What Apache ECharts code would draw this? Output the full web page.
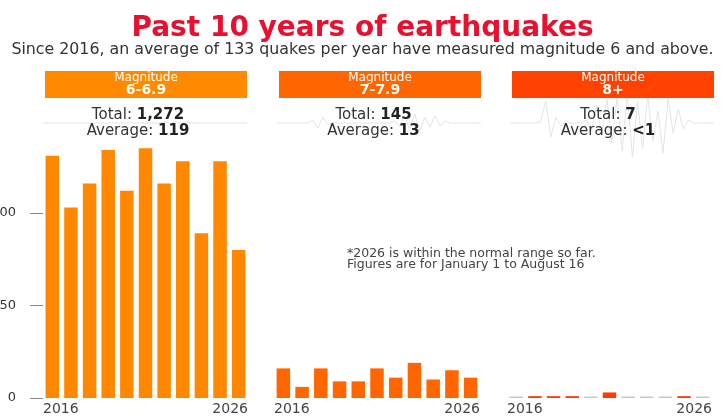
<!DOCTYPE html>
<head>
    <meta charset="utf-8">
    <script type="text/javascript" src="https://cdn.jsdelivr.net/npm/echarts@6/dist/echarts.min.js"></script>
</head>
<body style="margin:0; background:#fff">
	<div id="main" style="width:725px; height:416px"></div>
	<script type="text/javascript">
		// data
		var years = ['2016', '2017', '2018', '2019', '2020', '2021', '2022', '2023', '2024', '2025', '2026'];
		var mag6 = [131, 103, 116, 134, 112, 135, 116, 128, 89, 128, 80];
		var mag7 = [16, 6, 16, 9, 9, 16, 11, 19, 10, 15, 11];
		var mag8 = [0, 1, 1, 1, 0, 3, 0, 0, 0, 1, 0];
		var groups = ['6-6.9', '7-7.9', '8+'];
		var totals = ['1,272', '145', '7'];
		var averages = ['119', '13', '<1'];
		var yTicks = [0, 50, 100];
		// faint seismograph traces behind the totals (rough amplitude, one sample every 5px)
		var seis6 = [0,0,0,0,0,0,0,0,0,0,0,0,0,0,0,0,0,0,0,0,0,0,0,0,1,-1,2,-1,1,0,0,0,0,0,0,0,0,0,0,0,0];
		var seis7 = [0,0,0,0,0,0,0,3,-5,6,-2,1,0,0,0,0,0,0,0,0,0,0,0,2,-3,7,-6,9,-8,6,-4,7,-3,2,0,0,0,0,0,0,0];
		var seis8 = [0,0,0,0,0,0,1,22,-14,6,-3,2,0,0,0,3,-8,18,-12,24,-20,26,-28,30,-34,22,-26,28,-18,12,-30,24,-10,14,-6,3,0,0,0,0,0];

		var font = 'DejaVu Sans';
		var boxColors = ['#ff8a00', '#ff6600', '#ff4200'];
		var barColors = ['#ff8800', '#ff6600', '#ff3d00'];
		var boxX = [45, 279, 512];
		var statX = [138, 373.5, 608];
		var gridLeft = [43, 274, 507];
		var gridWidth = [205, 206, 205];
		var values = [mag6, mag7, mag8];
		var seis = [seis6, seis7, seis8];

		var grids = [], xAxes = [], yAxes = [], series = [], graphics = [];
		for (var i = 0; i < 3; i++) {
			grids.push({left: gridLeft[i], width: gridWidth[i], top: 139, height: 259, outerBoundsMode: 'none', containLabel: false});
			// hidden category axis for the bars
			xAxes.push({type: 'category', gridIndex: i, data: years, show: false});
			// label-only axis: first and last year at the grid edges
			xAxes.push({
				type: 'value', gridIndex: i, min: 0, max: 11, interval: 11, position: 'bottom',
				axisLine: {show: false}, axisTick: {show: false}, splitLine: {show: false},
				axisLabel: {
					margin: 4, color: '#444', fontFamily: font, fontSize: 14,
					alignMinLabel: 'left', alignMaxLabel: 'right',
					formatter: function (v) { return v === 0 ? years[0] : years[years.length - 1]; }
				}
			});
			yAxes.push({
				type: 'value', gridIndex: i, min: 0, max: 140, interval: 50,
				show: i === 0,
				axisLine: {show: false},
				axisTick: {show: true, length: 13, customValues: yTicks, lineStyle: {color: '#888'}},
				splitLine: {show: false},
				axisLabel: {
					margin: 27, color: '#333', fontFamily: font, fontSize: 13, customValues: yTicks
				}
			});
			(function (k) {
				series.push({
					type: 'bar', xAxisIndex: k * 2, yAxisIndex: k,
					data: values[k], barWidth: 13.5, barMinHeight: k === 2 ? 1.5 : 0,
					itemStyle: {
						color: function (p) { return p.value === 0 ? '#c8c8c8' : barColors[k]; }
					},
					silent: true
				});
			})(i);

			graphics.push({
				type: 'rect', z: 10, shape: {x: boxX[i], y: 71, width: 202, height: 27},
				style: {fill: boxColors[i]}
			});
			graphics.push({
				type: 'text', z: 11, x: boxX[i] + 101, y: 78,
				style: {text: 'Magnitude', fill: '#fff', font: '12px "DejaVu Sans"', align: 'center', verticalAlign: 'middle'}
			});
			graphics.push({
				type: 'text', z: 11, x: boxX[i] + 101, y: 90,
				style: {text: groups[i], fill: '#fff', font: 'bold 14px "DejaVu Sans"', align: 'center', verticalAlign: 'middle'}
			});
			graphics.push({
				type: 'text', z: 11, x: statX[i], y: 115,
				style: {
					text: '{a|Total: }{b|' + totals[i] + '}', align: 'center', verticalAlign: 'middle',
					rich: {
						a: {fontFamily: font, fontSize: 15, fill: '#333'},
						b: {fontFamily: font, fontSize: 15, fontWeight: 'bold', fill: '#222'}
					}
				}
			});
			graphics.push({
				type: 'text', z: 11, x: statX[i], y: 131,
				style: {
					text: '{a|Average: }{b|' + averages[i] + '}', align: 'center', verticalAlign: 'middle',
					rich: {
						a: {fontFamily: font, fontSize: 15, fill: '#333'},
						b: {fontFamily: font, fontSize: 15, fontWeight: 'bold', fill: '#222'}
					}
				}
			});
		}

		// grids for the seismograph traces, centred on y = 123
		for (var j = 0; j < 3; j++) {
			grids.push({left: boxX[j] - 2, width: 204, top: 88, height: 70, outerBoundsMode: 'none', containLabel: false});
			xAxes.push({type: 'category', gridIndex: 3 + j, boundaryGap: false, data: seis[j].map(function (v, n) { return n; }), show: false});
			yAxes.push({type: 'value', gridIndex: 3 + j, min: -35, max: 35, show: false});
			series.push({
				type: 'line', xAxisIndex: 6 + j, yAxisIndex: 3 + j, data: seis[j],
				symbol: 'none', silent: true, z: 1,
				lineStyle: {color: '#e4e4e4', width: 1}
			});
		}

		var myChart = echarts.init(document.getElementById('main'));
		var option = {
			animation: false,
			backgroundColor: '#fff',
			title: [
				{
					text: 'Past 10 years of earthquakes', left: 'center', top: 10,
					textStyle: {color: '#e8102e', fontFamily: font, fontWeight: 'bold', fontSize: 28}
				},
				{
					text: 'Since 2016, an average of 133 quakes per year have measured magnitude 6 and above.',
					left: 'center', top: 37,
					textStyle: {color: '#333', fontFamily: font, fontWeight: 'normal', fontSize: 15.8}
				},
				{
					text: '*2026 is within the normal range so far.\nFigures are for January 1 to August 16',
					left: 342, top: 243,
					textStyle: {color: '#444', fontFamily: font, fontWeight: 'normal', fontSize: 12.5, lineHeight: 11}
				}
			],
			grid: grids,
			xAxis: xAxes,
			yAxis: yAxes,
			series: series,
			graphic: graphics
		};
		myChart.setOption(option);
	</script>
</body>
